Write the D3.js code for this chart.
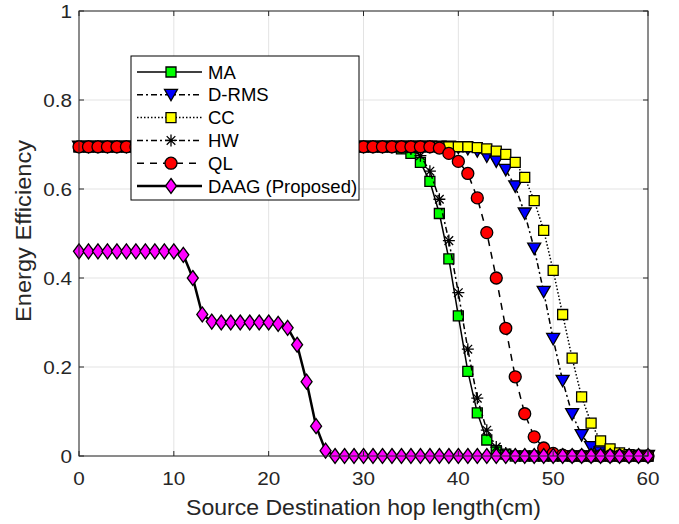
<!DOCTYPE html>
<html>
<head>
<meta charset="utf-8">
<script src="https://cdn.jsdelivr.net/npm/d3@7"></script>
<style>
  body { margin: 0; background: #fff; }
  svg { display: block; }
</style>
</head>
<body>
<div id="chart"></div>
<script>
// hop lengths (x axis, cm)
const hops = [0,1,2,3,4,5,6,7,8,9,10,11,12,13,14,15,16,17,18,19,20,
  21,22,23,24,25,26,27,28,29,30,31,32,33,34,35,36,37,38,39,40,
  41,42,43,44,45,46,47,48,49,50,51,52,53,54,55,56,57,58,59,60];

// series values, one per hop length
const maVals = [
  0.695,0.695,0.695,0.695,0.695,0.695,0.695,0.695,0.695,0.695,
  0.695,0.695,0.695,0.695,0.695,0.695,0.695,0.695,0.695,0.695,
  0.695,0.695,0.695,0.695,0.695,0.695,0.695,0.695,0.695,0.695,
  0.695,0.695,0.695,0.695,0.69,0.68,0.66,0.617,0.545,0.443,
  0.315,0.19,0.097,0.036,0.012,0.004,0,0,0,0,
  0,0,0,0,0,0,0,0,0,0,
  0];
const drmsVals = [
  0.695,0.695,0.695,0.695,0.695,0.695,0.695,0.695,0.695,0.695,
  0.695,0.695,0.695,0.695,0.695,0.695,0.695,0.695,0.695,0.695,
  0.695,0.695,0.695,0.695,0.695,0.695,0.695,0.695,0.695,0.695,
  0.695,0.695,0.695,0.695,0.695,0.695,0.695,0.695,0.695,0.695,
  0.693,0.69,0.685,0.673,0.662,0.643,0.606,0.545,0.466,0.369,
  0.263,0.169,0.094,0.047,0.02,0.008,0.003,0,0,0,
  0];
const ccVals = [
  0.695,0.695,0.695,0.695,0.695,0.695,0.695,0.695,0.695,0.695,
  0.695,0.695,0.695,0.695,0.695,0.695,0.695,0.695,0.695,0.695,
  0.695,0.695,0.695,0.695,0.695,0.695,0.695,0.695,0.695,0.695,
  0.695,0.695,0.695,0.695,0.695,0.695,0.695,0.695,0.695,0.695,
  0.695,0.695,0.693,0.69,0.685,0.678,0.66,0.626,0.574,0.507,
  0.417,0.318,0.22,0.133,0.074,0.034,0.016,0.007,0.003,0.001,
  0];
const hwVals = [
  0.695,0.695,0.695,0.695,0.695,0.695,0.695,0.695,0.695,0.695,
  0.695,0.695,0.695,0.695,0.695,0.695,0.695,0.695,0.695,0.695,
  0.695,0.695,0.695,0.695,0.695,0.695,0.695,0.695,0.695,0.695,
  0.695,0.695,0.695,0.695,0.695,0.69,0.675,0.64,0.577,0.484,
  0.367,0.24,0.13,0.058,0.02,0.007,0.002,0,0,0,
  0,0,0,0,0,0,0,0,0,0,
  0];
const qlVals = [
  0.695,0.695,0.695,0.695,0.695,0.695,0.695,0.695,0.695,0.695,
  0.695,0.695,0.695,0.695,0.695,0.695,0.695,0.695,0.695,0.695,
  0.695,0.695,0.695,0.695,0.695,0.695,0.695,0.695,0.695,0.695,
  0.695,0.695,0.695,0.695,0.695,0.695,0.695,0.695,0.692,0.68,
  0.662,0.635,0.58,0.502,0.40,0.287,0.178,0.095,0.043,0.018,
  0.006,0.002,0,0,0,0,0,0,0,0,
  0];
const daagVals = [
  0.46,0.46,0.46,0.46,0.46,0.46,0.46,0.46,0.46,0.46,
  0.46,0.452,0.40,0.318,0.302,0.30,0.30,0.30,0.30,0.30,
  0.30,0.297,0.288,0.25,0.167,0.067,0.012,0,0,0,
  0,0,0,0,0,0,0,0,0,0,
  0,0,0,0,0,0,0,0,0,0,
  0,0,0,0,0,0,0,0,0,0,
  0];

const seriesNames = ["MA", "D-RMS", "CC", "HW", "QL", "DAAG (Proposed)"];
const xTicks = [0, 10, 20, 30, 40, 50, 60];
const yTicks = [0, 0.2, 0.4, 0.6, 0.8, 1];

// styles for each series (same order as names)
const styles = [
  {vals: maVals,   marker: "square",   fill: "#00ff00", dash: null,      lw: 1.5},
  {vals: drmsVals, marker: "triangle", fill: "#0000ff", dash: "6,3,2,3", lw: 1.5},
  {vals: ccVals,   marker: "square",   fill: "#ffff00", dash: "1.5,2",   lw: 1.5},
  {vals: hwVals,   marker: "star",     fill: "none",    dash: "6,3,2,3", lw: 1.5},
  {vals: qlVals,   marker: "circle",   fill: "#ff0000", dash: "7,6",     lw: 1.5},
  {vals: daagVals, marker: "diamond",  fill: "#ff00ff", dash: null,      lw: 2.5}
];

const width = 679, height = 524;
const margin = {top: 11, right: 31, bottom: 68, left: 79};
const plotW = width - margin.left - margin.right;
const plotH = height - margin.top - margin.bottom;

const svg = d3.select("#chart")
  .append("svg")
  .attr("width", width)
  .attr("height", height)
  .style("font-family", "'Liberation Sans', Arial, sans-serif");

const g = svg.append("g")
  .attr("transform", `translate(${margin.left},${margin.top})`);

const x = d3.scaleLinear().domain([0, 60]).range([0, plotW]);
const y = d3.scaleLinear().domain([0, 1]).range([plotH, 0]);

// stretch text a little wider, the source figure was resized
function stretch(sel, k) {
  sel.each(function() {
    const L = this.getComputedTextLength();
    d3.select(this).attr("textLength", L * k).attr("lengthAdjust", "spacingAndGlyphs");
  });
}

// grid
g.append("g")
  .selectAll("line")
  .data(xTicks)
  .enter().append("line")
  .attr("x1", d => x(d)).attr("x2", d => x(d))
  .attr("y1", 0).attr("y2", plotH)
  .attr("stroke", "#e3e3e3").attr("stroke-width", 1);
g.append("g")
  .selectAll("line")
  .data(yTicks)
  .enter().append("line")
  .attr("x1", 0).attr("x2", plotW)
  .attr("y1", d => y(d)).attr("y2", d => y(d))
  .attr("stroke", "#e3e3e3").attr("stroke-width", 1);

// marker shapes
function markerPath(type) {
  switch (type) {
    case "square": return "M-5,-5H5V5H-5Z";
    case "triangle": return "M-6.5,-5.5H6.5L0,6Z";
    case "circle": return "M6,0A6,6 0 1,1 -6,0A6,6 0 1,1 6,0Z";
    case "diamond": return "M0,-7.5L5.5,0L0,7.5L-5.5,0Z";
    case "star": return "M0,-6V6M-6,0H6M-4.3,-4.3L4.3,4.3M-4.3,4.3L4.3,-4.3";
  }
}

const line = d3.line()
  .x((d, i) => x(hops[i]))
  .y(d => y(d));

// draw each series: line then markers
styles.forEach(s => {
  g.append("path")
    .datum(s.vals)
    .attr("d", line)
    .attr("fill", "none")
    .attr("stroke", "#000")
    .attr("stroke-width", s.lw)
    .attr("stroke-dasharray", s.dash);

  g.append("g")
    .selectAll("path")
    .data(s.vals)
    .enter().append("path")
    .attr("transform", (d, i) => `translate(${x(hops[i])},${y(d)})`)
    .attr("d", markerPath(s.marker))
    .attr("fill", s.fill)
    .attr("stroke", "#000")
    .attr("stroke-width", 1.3);
});

// axes box
const axisColor = "#262626";
g.append("rect")
  .attr("width", plotW).attr("height", plotH)
  .attr("fill", "none").attr("stroke", axisColor).attr("stroke-width", 1);

// tick marks (inward, all four sides)
const tickLen = 5;
xTicks.forEach(t => {
  g.append("line").attr("x1", x(t)).attr("x2", x(t))
    .attr("y1", plotH).attr("y2", plotH - tickLen).attr("stroke", axisColor);
  g.append("line").attr("x1", x(t)).attr("x2", x(t))
    .attr("y1", 0).attr("y2", tickLen).attr("stroke", axisColor);
});
yTicks.forEach(t => {
  g.append("line").attr("x1", 0).attr("x2", tickLen)
    .attr("y1", y(t)).attr("y2", y(t)).attr("stroke", axisColor);
  g.append("line").attr("x1", plotW).attr("x2", plotW - tickLen)
    .attr("y1", y(t)).attr("y2", y(t)).attr("stroke", axisColor);
});

// tick labels
g.selectAll("text.xt")
  .data(xTicks)
  .enter().append("text")
  .attr("class", "xt")
  .attr("x", d => x(d))
  .attr("y", plotH + 29)
  .attr("text-anchor", "middle")
  .attr("fill", axisColor)
  .style("font-size", "18.5px")
  .text(d => d)
  .call(stretch, 1.12);

g.selectAll("text.yt")
  .data(yTicks)
  .enter().append("text")
  .attr("class", "yt")
  .attr("x", -7)
  .attr("y", d => y(d) + 7)
  .attr("text-anchor", "end")
  .attr("fill", axisColor)
  .style("font-size", "18.5px")
  .text(d => d)
  .call(stretch, 1.12);

// axis titles
svg.append("text")
  .attr("x", 363.5)
  .attr("y", 515)
  .attr("text-anchor", "middle")
  .attr("fill", axisColor)
  .style("font-size", "21.5px")
  .attr("textLength", 355)
  .attr("lengthAdjust", "spacingAndGlyphs")
  .text("Source Destination hop length(cm)");

svg.append("text")
  .attr("transform", "translate(31,231) rotate(-90)")
  .attr("text-anchor", "middle")
  .attr("fill", axisColor)
  .style("font-size", "21.5px")
  .attr("textLength", 182)
  .attr("lengthAdjust", "spacingAndGlyphs")
  .text("Energy Efficiency");

// legend
const legend = svg.append("g").attr("transform", "translate(131,56)");
legend.append("rect")
  .attr("width", 228).attr("height", 144)
  .attr("fill", "#fff").attr("stroke", "#000").attr("stroke-width", 1);

styles.forEach((s, i) => {
  const ly = 16 + i * 22.8;
  legend.append("line")
    .attr("x1", 6).attr("x2", 71)
    .attr("y1", ly).attr("y2", ly)
    .attr("stroke", "#000")
    .attr("stroke-width", s.lw)
    .attr("stroke-dasharray", s.dash);
  legend.append("path")
    .attr("transform", `translate(40,${ly})`)
    .attr("d", markerPath(s.marker))
    .attr("fill", s.fill)
    .attr("stroke", "#000")
    .attr("stroke-width", 1.3);
  legend.append("text")
    .attr("x", 77)
    .attr("y", ly + 6.5)
    .attr("fill", "#000")
    .style("font-size", "18.5px")
    .text(seriesNames[i]);
});
</script>
</body>
</html>
